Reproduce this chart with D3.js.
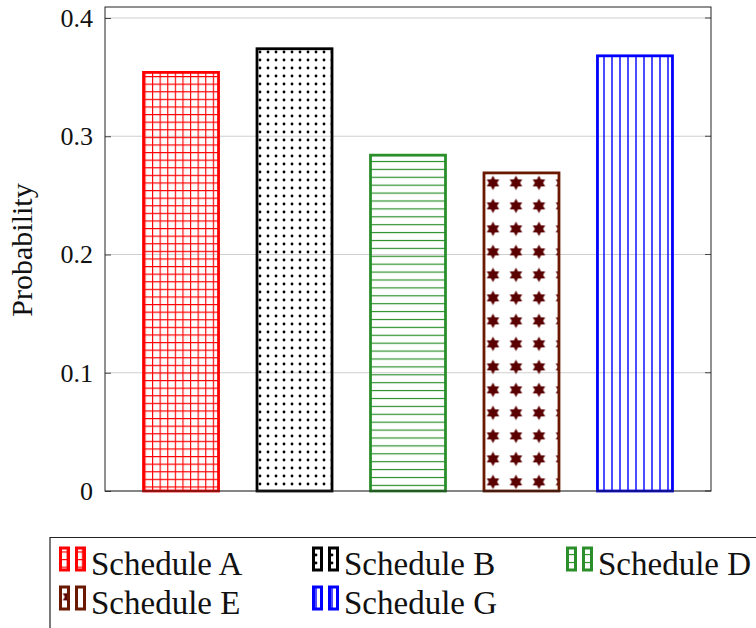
<!DOCTYPE html>
<html><head><meta charset="utf-8">
<script src="https://cdn.jsdelivr.net/npm/d3@7"></script>
<style>body{margin:0;background:#fff}</style></head>
<body><svg id="c" width="756" height="628"></svg>
<script>
const categories = ["Schedule A","Schedule B","Schedule D","Schedule E","Schedule G"];
const values = [0.354, 0.374, 0.284, 0.269, 0.368];
const colors = ["#ff0000","#000000","#2a8f2a","#6b1800","#0000ff"];
const patterns = ["grid","dots","hlines","stars","vlines"];
const yTicks = [0, 0.1, 0.2, 0.3, 0.4];

const svg = d3.select("#c");
const L=105,R=711,T=7,B=491;
const x = d3.scalePoint().domain(categories).range([L,R]).padding(0.67);
const y = d3.scaleLinear().domain([0,0.4093]).range([B,T]);
const barW = 75;
const defs = svg.append("defs");
const FONT = "'Liberation Serif','Times New Roman',serif";

function mkPattern(id, type, col){
  if(type==="grid"){
    const p=defs.append("pattern").attr("id",id).attr("patternUnits","userSpaceOnUse").attr("width",7.6).attr("height",7.6);
    p.append("path").attr("d","M0,0.5H7.6M0.5,0V7.6").attr("stroke",col).attr("stroke-width",1.3);
  } else if(type==="dots"){
    const p=defs.append("pattern").attr("id",id).attr("patternUnits","userSpaceOnUse").attr("width",8).attr("height",8);
    p.append("circle").attr("cx",4).attr("cy",4).attr("r",1.4).attr("fill",col);
  } else if(type==="hlines"){
    const p=defs.append("pattern").attr("id",id).attr("patternUnits","userSpaceOnUse").attr("width",8).attr("height",7.9);
    p.append("path").attr("d","M0,3.5H8").attr("stroke",col).attr("stroke-width",1.2);
  } else if(type==="vlines"){
    const p=defs.append("pattern").attr("id",id).attr("patternUnits","userSpaceOnUse").attr("width",8).attr("height",8);
    p.append("path").attr("d","M4,0V8").attr("stroke",col).attr("stroke-width",1.4);
  } else if(type==="stars"){
    const p=defs.append("pattern").attr("id",id).attr("patternUnits","userSpaceOnUse").attr("width",23).attr("height",23)
      .attr("x",0).attr("y",0);
    const pts=[];
    for(let i=0;i<12;i++){const r=i%2?4.1:7.2;const a=-Math.PI/2+i*Math.PI/6;pts.push([11.5+r*Math.cos(a),11.5+r*Math.sin(a)]);}
    p.append("polygon").attr("points",pts.map(d=>d.join(",")).join(" ")).attr("fill","#5a0000");
  }
}
patterns.forEach((t,i)=>mkPattern("pat"+i,t,colors[i]));
defs.select("#pat3").attr("x", x(categories[3])-barW/2-2.5).attr("y", y(values[3])-1.5);

// grid
svg.append("g").selectAll("line").data(yTicks).join("line")
  .attr("x1",L).attr("x2",R).attr("y1",d=>y(d)).attr("y2",d=>y(d))
  .attr("stroke","#cfcfcf").attr("stroke-width",1);

// bars
svg.append("g").selectAll("rect").data(values).join("rect")
  .attr("x",(d,i)=>x(categories[i])-barW/2).attr("width",barW)
  .attr("y",d=>y(d)).attr("height",d=>B-y(d))
  .attr("fill",(d,i)=>"url(#pat"+i+")").attr("stroke",(d,i)=>colors[i]).attr("stroke-width",2.8);

// axis
const ax = d3.axisLeft(y).tickValues(yTicks).tickFormat(d=>d===0?"0":d3.format(".1f")(d)).tickSize(-6).tickPadding(12);
const g = svg.append("g").attr("transform",`translate(${L},0)`).call(ax);
g.select(".domain").remove();
g.selectAll(".tick line").attr("stroke","#444");
g.selectAll("text").attr("font-family",FONT).attr("font-size",26).attr("fill","#111");
svg.append("g").selectAll("line").data(yTicks).join("line")
  .attr("x1",R).attr("x2",R-6).attr("y1",d=>y(d)).attr("y2",d=>y(d)).attr("stroke","#444");
svg.append("rect").attr("x",L).attr("y",T).attr("width",R-L).attr("height",B-T)
  .attr("fill","none").attr("stroke","#222").attr("stroke-width",1);

svg.append("text").attr("transform","translate(32,250) rotate(-90)").attr("text-anchor","middle")
  .attr("font-family",FONT).attr("font-size",30).attr("fill","#111").text("Probability");

// legend
const lg = svg.append("g");
lg.append("path").attr("d","M50,650V537.5H760").attr("fill","none").attr("stroke","#222").attr("stroke-width",1.2);
const colX=[59,312,566], rowY=[559,598];
categories.forEach((c,i)=>{
  const cx=colX[i%3], cy=rowY[Math.floor(i/3)];
  const it=lg.append("g").attr("transform",`translate(${cx},${cy})`);
  [0,16].forEach(o=>{
    it.append("rect").attr("x",o+1.5).attr("y",-11).attr("width",8).attr("height",22)
      .attr("fill","url(#pat"+i+")").attr("stroke",colors[i]).attr("stroke-width",3);
  });
  it.append("text").attr("x",32).attr("y",16).attr("font-family",FONT)
    .attr("font-size",33).attr("fill","#111").text(c);
});
</script></body></html>
